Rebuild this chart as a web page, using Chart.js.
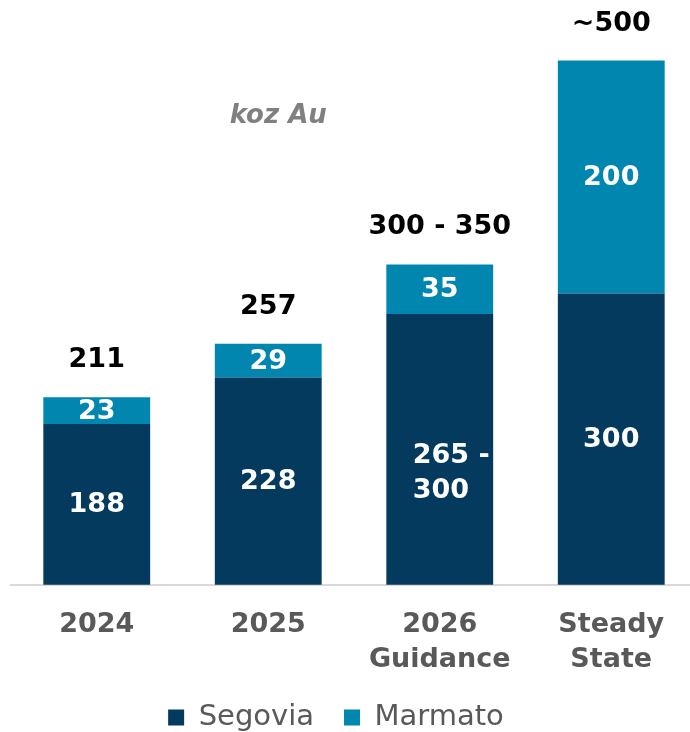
<!DOCTYPE html>
<html><head><meta charset="utf-8">
<script src="https://cdn.jsdelivr.net/npm/chart.js@4/dist/chart.umd.min.js"></script>
<style>html,body{margin:0;padding:0;overflow:hidden;background:#fff;width:690px;height:732px}canvas{display:block}</style>
</head><body>
<canvas id="c" width="700" height="746"></canvas>
<script>
const categories = [["2024"], ["2025"], ["2026", "Guidance"], ["Steady", "State"]];
const segovia = [188, 228, 282.5, 300];
const marmato = [23, 29, 42.5, 200];
const segoviaLabels = ["188", "228", "265 -\n300", "300"];
const marmatoLabels = ["23", "29", "35", "200"];
const totalLabels = ["211", "257", "300 - 350", "~500"];
const unitLabel = "koz Au";

const NAVY = "#033A5E", TEAL = "#0086AF", GREY = "#595959";
const FONT = "'DejaVu Sans', sans-serif";

const labelPlugin = {
  id: 'labels',
  afterLayout(chart) {
    chart.legend.left -= 18;
    chart.legend.right -= 18;
  },
  afterDatasetsDraw(chart) {
    const ctx = chart.ctx;
    const bottom = chart.chartArea.bottom;
    const m0 = chart.getDatasetMeta(0).data, m1 = chart.getDatasetMeta(1).data;
    ctx.save();
    ctx.textBaseline = 'middle';
    ctx.font = "bold 27px " + FONT;
    for (let i = 0; i < categories.length; i++) {
      const b0 = m0[i], b1 = m1[i];
      ctx.fillStyle = '#fff';
      const lines = segoviaLabels[i].split("\n");
      const cy0 = (b0.y + Math.min(b0.base, bottom)) / 2;
      if (lines.length === 1) {
        ctx.textAlign = 'center';
        ctx.fillText(lines[0], b0.x, cy0 + 1);
      } else {
        ctx.textAlign = 'left';
        const lh = 35, start = cy0 + 24 - lh * (lines.length - 1) / 2;
        lines.forEach((t, k) => ctx.fillText(t, b0.x - 27, start + k * lh));
      }
      ctx.textAlign = 'center';
      const cy1 = (b1.y + b1.base) / 2;
      ctx.fillText(marmatoLabels[i], b1.x, cy1 + 1);
      ctx.fillStyle = '#000';
      ctx.fillText(totalLabels[i], b1.x, b1.y - 37);
    }
    const xs = chart.scales.x, ys = chart.scales.y;
    ctx.font = "italic bold 26px " + FONT;
    ctx.fillStyle = '#808080';
    ctx.textAlign = 'center';
    ctx.fillText(unitLabel, xs.getPixelForValue(1) + 10, ys.getPixelForValue(452));
    ctx.restore();
  }
};

new Chart(document.getElementById('c'), {
  type: 'bar',
  data: {
    labels: categories,
    datasets: [
      { label: 'Segovia', data: segovia, backgroundColor: NAVY, borderWidth: 0 },
      { label: 'Marmato', data: marmato, backgroundColor: TEAL, borderWidth: 0 }
    ]
  },
  options: {
    responsive: false,
    animation: false,
    devicePixelRatio: 1,
    layout: { padding: { left: 11, right: 3, top: 0, bottom: 4 } },
    datasets: { bar: { categoryPercentage: 1, barPercentage: 0.623 } },
    scales: {
      x: {
        stacked: true,
        grid: { display: false, drawTicks: false },
        border: { display: true, color: '#D9D9D9', width: 2 },
        ticks: { color: GREY, font: { family: FONT, size: 27, weight: 'bold', lineHeight: 1.3 }, padding: 23, maxRotation: 0, autoSkip: false },
        afterFit(scale) { scale.height -= 28; }
      },
      y: { stacked: true, display: false, min: 50, max: 552 }
    },
    plugins: {
      legend: {
        position: 'bottom',
        labels: { color: GREY, font: { family: FONT, size: 29 }, boxWidth: 16, boxHeight: 16, padding: 30 }
      },
      tooltip: { enabled: false }
    }
  },
  plugins: [labelPlugin]
});
</script>
</body></html>
